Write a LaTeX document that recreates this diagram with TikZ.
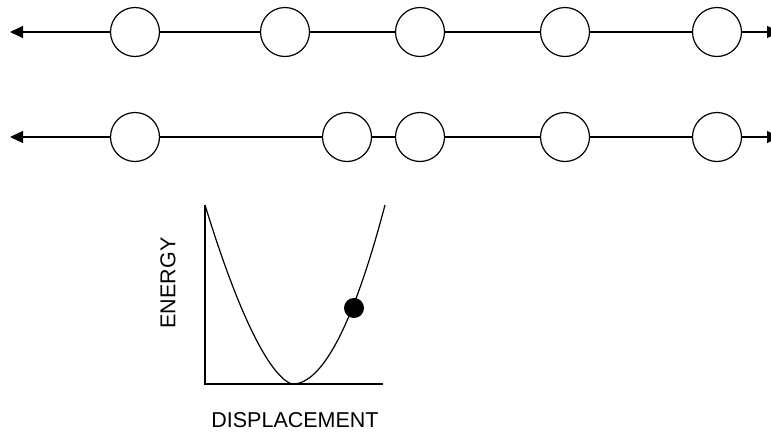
\documentclass[tikz,border=0pt]{standalone}
\usepackage{fontspec}
\setmainfont{Liberation Sans}
\usetikzlibrary{arrows.meta}
\begin{document}
\begin{tikzpicture}[x=1pt,y=-1pt,
  ball/.style={circle,draw,line width=1.2pt,minimum size=49pt,inner sep=0pt},
  link/.style={line width=1.2pt},
  tip/.style={line width=1.2pt,-{Triangle[length=13pt,width=12pt]}},
  lbl/.style={font=\fontsize{21.5}{21.5}\selectfont,inner sep=0pt}]
\useasboundingbox (0,0) rectangle (771,434);
\clip (0,0) rectangle (771,434);
% row 1
\coordinate (l1) at (10,32);
\coordinate (r1) at (780,32);
\node[ball] (a1) at (135,32) {};
\node[ball] (b1) at (285,32) {};
\node[ball] (c1) at (420,32) {};
\node[ball] (d1) at (565,32) {};
\node[ball] (e1) at (717,32) {};
\draw[tip] (a1) -- (l1);
\draw[link] (a1) -- (b1);
\draw[link] (b1) -- (c1);
\draw[link] (c1) -- (d1);
\draw[link] (d1) -- (e1);
\draw[tip] (e1) -- (r1);
% row 2
\coordinate (l2) at (10,137);
\coordinate (r2) at (780,137);
\node[ball] (a2) at (135,137) {};
\node[ball] (b2) at (347,137) {};
\node[ball] (c2) at (420,137) {};
\node[ball] (d2) at (565,137) {};
\node[ball] (e2) at (717,137) {};
\draw[tip] (a2) -- (l2);
\draw[link] (a2) -- (b2);
\draw[link] (b2) -- (c2);
\draw[link] (c2) -- (d2);
\draw[link] (d2) -- (e2);
\draw[tip] (e2) -- (r2);
% energy plot
\coordinate (ytop) at (205,205);
\coordinate (orig) at (205,384);
\coordinate (xend) at (383,384);
\draw[link] (ytop) -- (orig) -- (xend);
\draw[link,line join=round] plot[domain=205:292.99,samples=70] (\x,{384-179*((293-\x)/88)^1.6})
  -- plot[domain=293.01:385,samples=70] (\x,{384-179*((\x-293)/92)^1.95});
\node[circle,fill=black,minimum size=20pt,inner sep=0pt] (dot) at (354,308) {};
\node[lbl,rotate=90] (en) at (168,283) {ENERGY};
\node[lbl] (dp) at (295,420) {DISPLACEMENT};
\end{tikzpicture}
\end{document}
